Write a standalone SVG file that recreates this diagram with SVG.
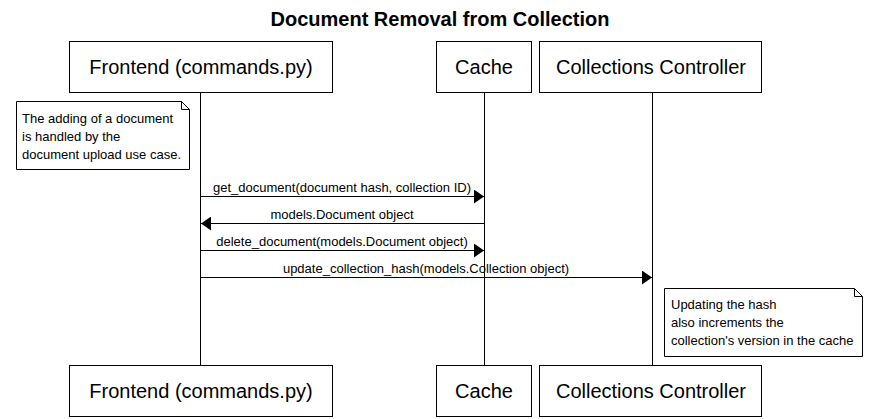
<svg xmlns="http://www.w3.org/2000/svg" width="878" height="419" viewBox="0 0 878 419">
<style>
.box{fill:#fff;stroke:#000;stroke-width:1}
.pt{font-family:"Liberation Sans",Arial,sans-serif;font-size:20px;text-anchor:middle;fill:#000}
.life{stroke:#000;stroke-width:1;fill:none}
.msg{stroke:#000;stroke-width:1;fill:none}
.mt{font-family:"Liberation Sans",Arial,sans-serif;font-size:13px;text-anchor:middle;fill:#000}
.nt{font-family:"Liberation Sans",Arial,sans-serif;font-size:13px;fill:#000}
.title{font-family:"Liberation Sans",Arial,sans-serif;font-size:20px;font-weight:bold;text-anchor:middle;fill:#000}
</style>
<defs>
<marker id="ah" markerWidth="11" markerHeight="14" refX="10" refY="7" orient="auto" markerUnits="userSpaceOnUse">
<path d="M0,0 L10,7 L0,14 Z" fill="#000"/>
</marker>
</defs>
<rect width="878" height="419" fill="#fff"/>
<text class="title" x="440" y="26">Document Removal from Collection</text>
<g id="lifelines">
<line class="life" x1="200.5" y1="92" x2="200.5" y2="365"/>
<line class="life" x1="484.5" y1="92" x2="484.5" y2="365"/>
<line class="life" x1="652.5" y1="92" x2="652.5" y2="365"/>
</g>
<g id="frontend">
<rect class="box" x="69.5" y="41.5" width="263" height="51"/>
<text class="pt" x="201" y="74">Frontend (commands.py)</text>
<rect class="box" x="69.5" y="365.5" width="263" height="51"/>
<text class="pt" x="201" y="398">Frontend (commands.py)</text>
</g>
<g id="cache">
<rect class="box" x="436.5" y="41.5" width="95" height="51"/>
<text class="pt" x="484" y="74">Cache</text>
<rect class="box" x="436.5" y="365.5" width="95" height="51"/>
<text class="pt" x="484" y="398">Cache</text>
</g>
<g id="collections">
<rect class="box" x="539.5" y="41.5" width="222" height="51"/>
<text class="pt" x="651" y="74">Collections Controller</text>
<rect class="box" x="539.5" y="365.5" width="222" height="51"/>
<text class="pt" x="651" y="398">Collections Controller</text>
</g>
<g id="note1">
<path class="box" d="M16.5,101.5 H181.5 L189.5,109.5 V169.5 H16.5 Z"/>
<path d="M181.5,101.5 V109.5 H189.5" fill="none" stroke="#000"/>
<text class="nt" x="22" y="123">The adding of a document</text>
<text class="nt" x="22" y="141">is handled by the</text>
<text class="nt" x="22" y="159">document upload use case.</text>
</g>
<g id="note2">
<path class="box" d="M664.5,288.5 H854.5 L862.5,296.5 V356.5 H664.5 Z"/>
<path d="M854.5,288.5 V296.5 H862.5" fill="none" stroke="#000"/>
<text class="nt" x="671" y="309">Updating the hash</text>
<text class="nt" x="671" y="327">also increments the</text>
<text class="nt" x="671" y="345">collection's version in the cache</text>
</g>
<g id="connectors">
<line class="msg" x1="200.5" y1="196.5" x2="484" y2="196.5" marker-end="url(#ah)"/>
<text class="mt" x="342" y="192">get_document(document hash, collection ID)</text>
<line class="msg" x1="484.5" y1="223.5" x2="201" y2="223.5" marker-end="url(#ah)"/>
<text class="mt" x="342" y="219">models.Document object</text>
<line class="msg" x1="200.5" y1="250.5" x2="484" y2="250.5" marker-end="url(#ah)"/>
<text class="mt" x="342" y="246">delete_document(models.Document object)</text>
<line class="msg" x1="200.5" y1="277.5" x2="652" y2="277.5" marker-end="url(#ah)"/>
<text class="mt" x="426" y="273">update_collection_hash(models.Collection object)</text>
</g>
</svg>
